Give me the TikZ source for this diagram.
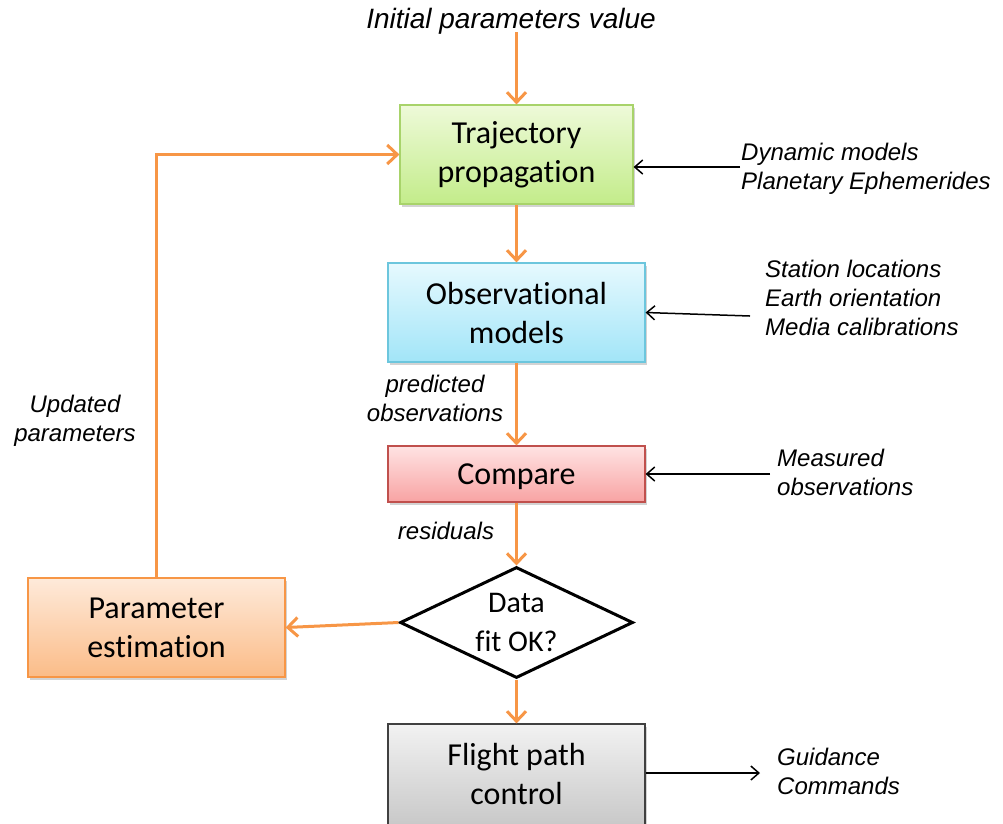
\documentclass[tikz,border=0pt]{standalone}
\usepackage{fontspec}
\setmainfont{Carlito}[Ligatures=NoCommon]
\newfontfamily\labelfont{Liberation Sans}
\usetikzlibrary{arrows.meta,shapes.geometric,shadows}

\definecolor{flow}{HTML}{F79646}
\definecolor{greenTop}{HTML}{EEFAD9}\definecolor{greenBot}{HTML}{C3EC8A}\definecolor{greenLine}{HTML}{A8D36A}
\definecolor{cyanTop}{HTML}{E6F9FE}\definecolor{cyanBot}{HTML}{A2E5F8}\definecolor{cyanLine}{HTML}{6CC6DD}
\definecolor{pinkTop}{HTML}{FFE3E3}\definecolor{pinkBot}{HTML}{F8A3A3}\definecolor{pinkLine}{HTML}{C0504D}
\definecolor{orTop}{HTML}{FEEADA}\definecolor{orBot}{HTML}{FBBC88}\definecolor{orLine}{HTML}{F79646}
\definecolor{grTop}{HTML}{F2F2F2}\definecolor{grBot}{HTML}{C4C4C4}\definecolor{grLine}{HTML}{404040}

\tikzset{
  procbox/.style={rectangle, inner sep=0pt, line width=1.2pt, align=center,
    font=\fontsize{32}{39}\selectfont,
    drop shadow={opacity=0.35, shadow xshift=2pt, shadow yshift=-3pt}},
  note/.style={font=\labelfont\itshape\fontsize{24}{29}\selectfont, inner sep=0pt},
  flowarrow/.style={draw=flow, line width=3pt, -{Straight Barb[length=10pt,width=19pt,line width=3pt]}},
  inarrow/.style={draw=black, line width=1.5pt, -{Straight Barb[length=8pt,width=14pt,line width=1.5pt]}}
}

\begin{document}
\begin{tikzpicture}[x=1pt,y=-1pt]
\useasboundingbox (0,0) rectangle (1003,823);

% process boxes
\node[procbox, draw=greenLine, top color=greenTop, bottom color=greenBot,
  minimum width=233pt, minimum height=99pt] (traj) at (516.5,154.5) {Trajectory\\propagation};
\node[procbox, draw=cyanLine, top color=cyanTop, bottom color=cyanBot,
  minimum width=257pt, minimum height=99pt] (obs) at (516.5,312.5) {Observational\\models};
\node[procbox, draw=pinkLine, top color=pinkTop, bottom color=pinkBot,
  minimum width=257pt, minimum height=56pt, text depth=0pt] (cmp) at (516.5,474) {Compare};
\node[diamond, draw=black, line width=3pt, fill=white, inner sep=0pt, aspect=2.1,
  minimum width=233pt, minimum height=111pt, align=center,
  font=\fontsize{30}{39}\selectfont] (fit) at (516.5,622.5) {Data\\fit OK?};
\node[procbox, draw=orLine, top color=orTop, bottom color=orBot,
  minimum width=257pt, minimum height=99pt] (est) at (156.5,627.5) {Parameter\\estimation};
\node[procbox, draw=grLine, top color=grTop, bottom color=grBot,
  minimum width=257pt, minimum height=112pt] (fpc) at (516.5,780) {};
\node[font=\fontsize{32}{39}\selectfont, align=center] (fpctext) at (516.5,773.5) {Flight path\\control};

% text labels
\node[note, font=\labelfont\itshape\fontsize{28}{34}\selectfont] (init) at (511,21) {Initial parameters value};
\node[note, anchor=west, align=left] (dyn) at (741,169) {Dynamic models\\Planetary Ephemerides};
\node[note, anchor=west, align=left] (sta) at (765,298) {Station locations\\Earth orientation\\Media calibrations};
\node[note, anchor=west, align=left] (meas) at (777,472) {Measured\\observations};
\node[note, anchor=west, align=left] (guid) at (777,771) {Guidance\\Commands};
\node[note, align=center] (pred) at (435,398) {predicted\\observations};
\node[note, align=center] (upd) at (75,421) {Updated\\parameters};
\node[note] (res) at (446,531) {residuals};

% free ends of connectors
\coordinate (initEnd) at (516.5,32);
\coordinate (dynEnd) at (740,167);
\coordinate (staEnd) at (750,316);
\coordinate (measEnd) at (770,474);
\coordinate (guidEnd) at (760,773);
\coordinate (corner) at (156.5,154.5);

% main flow
\draw[flowarrow] (initEnd) -- (traj.north);
\draw[flowarrow] (traj.south) -- (obs.north);
\draw[flowarrow] (obs.south) -- (cmp.north);
\draw[flowarrow] (cmp.south) -- (fit.north);
\draw[flowarrow] (fit.south) -- (fpc.north);
\draw[flowarrow] (fit.west) -- (est.east);
\draw[flowarrow, line join=miter] (est.north) -- (corner) -- (traj.west);

% external inputs and output
\draw[inarrow] (dynEnd) -- (traj.east |- dynEnd);
\draw[inarrow] (staEnd) -- (obs.east);
\draw[inarrow] (measEnd) -- (cmp.east);
\draw[inarrow] (fpc.east |- guidEnd) -- (guidEnd);
\end{tikzpicture}
\end{document}
